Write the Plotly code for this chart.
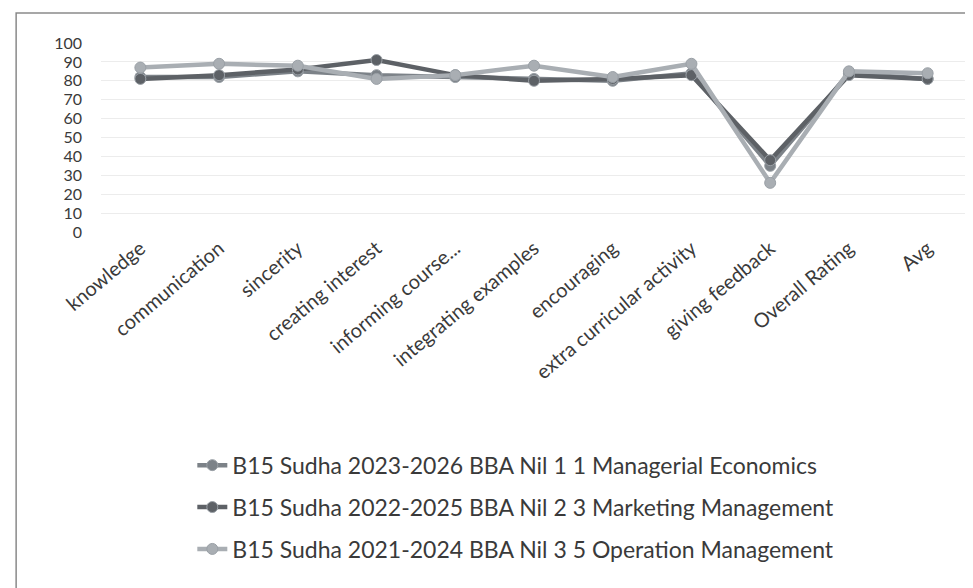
import plotly.graph_objects as go

categories = ["knowledge", "communication", "sincerity", "creating interest",
              "informing course...", "integrating examples", "encouraging",
              "extra curricular activity", "giving feedback", "Overall Rating", "Avg"]

series_names = ["B15 Sudha 2023-2026 BBA Nil 1 1 Managerial Economics",
                "B15 Sudha 2022-2025 BBA Nil 2 3 Marketing Management",
                "B15 Sudha 2021-2024 BBA Nil 3 5 Operation Management"]

managerial = [82, 82, 85, 83, 82, 81, 80, 84, 35, 84, 81]
marketing = [81, 83, 86, 91, 83, 80, 81, 83, 38, 83, 81]
operation = [87, 89, 88, 81, 83, 88, 82, 89, 26, 85, 84]

y_ticks = list(range(0, 101, 10))

colors = ["#7c8288", "#5d6166", "#a9aeb3"]
values = [managerial, marketing, operation]

fig = go.Figure()
for i, (name, vals) in enumerate(zip(series_names, values)):
    fig.add_trace(go.Scatter(
        x=categories, y=vals, name=name, mode="lines+markers",
        line=dict(color=colors[i], width=4.5),
        marker=dict(color=colors[i], size=11, line=dict(color="#9aa0a6", width=1)),
        legendgroup=f"g{i}",
    ))

fig.update_layout(
    width=973, height=588,
    margin=dict(l=93, r=14, t=35, b=364),
    paper_bgcolor="white", plot_bgcolor="white",
    font=dict(family="Lato, Open Sans, sans-serif", color="#3a3a3a"),
    xaxis=dict(tickangle=-40, tickfont=dict(size=20, color="#3a3a3a"),
               showgrid=False, showline=False, ticks="", range=[-0.5, 10.5]),
    yaxis=dict(range=[0, 100], tickvals=y_ticks, tickfont=dict(size=16, color="#3a3a3a"),
               showgrid=True, gridcolor="#ececec", gridwidth=1, zeroline=False,
               ticks="", ticklen=0, ticklabelstandoff=18),
    legend=dict(orientation="v", x=0.479, xanchor="center", y=-1.12, yanchor="top",
                font=dict(size=23, color="#3a3a3a"), tracegroupgap=9,
                bgcolor="rgba(0,0,0,0)"),
    shapes=[dict(type="rect", xref="paper", yref="paper",
                 x0=-0.098, x1=1.0115, y0=-1.89, y1=1.159,
                 line=dict(color="#8a8a8a", width=1.5))],
)

fig.write_html("out.html")
